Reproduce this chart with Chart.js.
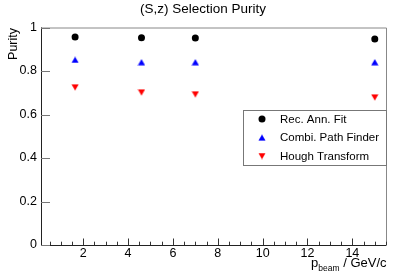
<!DOCTYPE html>
<html>
<head>
<meta charset="utf-8">
<script src="https://cdn.jsdelivr.net/npm/chart.js@4.4.1/dist/chart.umd.min.js"></script>
<style>
  html, body { margin: 0; padding: 0; background: #fff; }
  #c { display: block; }
</style>
</head>
<body>
<canvas id="c" width="407" height="276"></canvas>
<script>
// beam momenta (GeV/c) and purity per method
const momenta = [1.64, 4.6, 7.0, 15.0];
const recAnnFit = [0.956, 0.953, 0.952, 0.947];
const combiPathFinder = [0.851, 0.840, 0.840, 0.840];
const houghTransform = [0.725, 0.702, 0.693, 0.679];

const seriesNames = ['Rec. Ann. Fit', 'Combi. Path Finder', 'Hough Transform'];
const xTickValues = [2, 4, 6, 8, 10, 12, 14];
const xMinorStep = 0.5;
const yTickValues = [0, 0.2, 0.4, 0.6, 0.8, 1];

const FONT = "'Liberation Sans', Arial, Helvetica, sans-serif";

// ROOT-like triangle markers, centred on the point
function triMarker(color, down) {
  const c = document.createElement('canvas');
  c.width = 8; c.height = 7;
  const g = c.getContext('2d');
  g.fillStyle = color;
  g.beginPath();
  if (down) {
    g.moveTo(0.4, 0.4); g.lineTo(7.6, 0.4); g.lineTo(4, 6.7);
  } else {
    g.moveTo(4, 0.3); g.lineTo(7.6, 6.6); g.lineTo(0.4, 6.6);
  }
  g.closePath();
  g.fill();
  return c;
}
const blueUp = triMarker('#0000ff', false);
const redDown = triMarker('#ff0000', true);

function pts(ys) {
  return momenta.map((x, i) => ({ x: x, y: ys[i] }));
}

const rootStyle = {
  id: 'rootStyle',
  afterDraw(chart) {
    const ctx = chart.ctx;
    const a = chart.chartArea;
    const xs = chart.scales.x, ys = chart.scales.y;
    ctx.save();

    // frame
    ctx.lineWidth = 1;
    ctx.strokeStyle = '#888';
    ctx.beginPath();
    ctx.moveTo(a.left, a.top + 0.5); ctx.lineTo(a.right + 0.5, a.top + 0.5);
    ctx.lineTo(a.right + 0.5, a.bottom);
    ctx.stroke();
    ctx.strokeStyle = '#222';
    ctx.beginPath();
    ctx.moveTo(a.left + 0.5, a.top); ctx.lineTo(a.left + 0.5, a.bottom + 0.5);
    ctx.lineTo(a.right + 0.5, a.bottom + 0.5);
    ctx.stroke();

    // y ticks
    ctx.strokeStyle = '#777';
    ctx.beginPath();
    yTickValues.forEach(v => {
      const y = Math.round(ys.getPixelForValue(v)) + 0.5;
      ctx.moveTo(a.left, y); ctx.lineTo(a.left + 9, y);
    });
    ctx.stroke();

    // x ticks (major + minor)
    ctx.strokeStyle = '#333';
    ctx.beginPath();
    for (let v = xMinorStep; v <= xs.max; v += xMinorStep) {
      const major = xTickValues.includes(v);
      const x = Math.round(xs.getPixelForValue(v)) + 0.5;
      ctx.moveTo(x, a.bottom); ctx.lineTo(x, a.bottom - (major ? 6.5 : 3.3));
    }
    ctx.stroke();

    // title
    ctx.fillStyle = '#000';
    ctx.font = '13.5px ' + FONT;
    ctx.textAlign = 'center';
    ctx.textBaseline = 'middle';
    ctx.fillText('(S,z) Selection Purity', 203, 9.5);

    // y title
    ctx.save();
    ctx.translate(16.5, 28);
    ctx.rotate(-Math.PI / 2);
    ctx.font = '12.5px ' + FONT;
    ctx.textAlign = 'right';
    ctx.textBaseline = 'alphabetic';
    ctx.fillText('Purity', 0, 0);
    ctx.restore();

    // x title with subscript
    ctx.textAlign = 'left';
    ctx.textBaseline = 'alphabetic';
    const mainF = '13px ' + FONT, subF = '8.5px ' + FONT;
    ctx.font = mainF; const wP = ctx.measureText('p').width;
    const tail = ' / GeV/c'; const wT = ctx.measureText(tail).width;
    ctx.font = subF; const wS = ctx.measureText('beam').width;
    let x0 = 386.5 - (wP + wS + wT);
    ctx.font = mainF; ctx.fillText('p', x0, 267);
    ctx.font = subF; ctx.fillText('beam', x0 + wP, 271);
    ctx.font = mainF; ctx.fillText(tail, x0 + wP + wS, 267);

    // legend
    const lx = 243.5, ly = 110.5, lw = 143, lh = 55;
    ctx.fillStyle = '#fff';
    ctx.fillRect(lx, ly, lw, lh);
    ctx.strokeStyle = '#777';
    ctx.strokeRect(lx, ly, lw, lh);
    const rowY = [119, 137.7, 156];
    ctx.font = '11.5px ' + FONT;
    ctx.textBaseline = 'middle';
    seriesNames.forEach((name, i) => {
      const mx = 262, my = rowY[i];
      if (i === 0) {
        ctx.fillStyle = '#000';
        ctx.beginPath(); ctx.arc(mx, my, 3.5, 0, Math.PI * 2); ctx.fill();
      } else {
        const img = i === 1 ? blueUp : redDown;
        ctx.drawImage(img, mx - img.width / 2, my - img.height / 2);
      }
      ctx.fillStyle = '#000';
      ctx.fillText(name, 280, my + 0.5);
    });
    ctx.restore();
  }
};

new Chart(document.getElementById('c'), {
  type: 'scatter',
  data: {
    datasets: [
      { label: seriesNames[0], data: pts(recAnnFit), pointStyle: 'circle', pointRadius: 3.5,
        backgroundColor: '#000', borderWidth: 0 },
      { label: seriesNames[1], data: pts(combiPathFinder), pointStyle: blueUp, pointRadius: 4 },
      { label: seriesNames[2], data: pts(houghTransform), pointStyle: redDown, pointRadius: 4 }
    ]
  },
  options: {
    responsive: false,
    animation: false,
    layout: { padding: { left: 0, right: 21, top: 27.5, bottom: 0 } },
    plugins: { legend: { display: false }, tooltip: { enabled: false }, title: { display: false } },
    scales: {
      x: {
        type: 'linear', min: 0.12, max: 15.5,
        grid: { display: false, drawTicks: false }, border: { display: false },
        afterBuildTicks: s => { s.ticks = xTickValues.map(v => ({ value: v })); },
        afterFit: s => { s.height = 31; },
        ticks: { color: '#000', font: { family: FONT, size: 12.5 }, padding: 1, maxRotation: 0, autoSkip: false }
      },
      y: {
        type: 'linear', min: 0, max: 1,
        grid: { display: false, drawTicks: false }, border: { display: false },
        afterBuildTicks: s => { s.ticks = yTickValues.map(v => ({ value: v })); },
        afterFit: s => { s.width = 41; },
        ticks: { color: '#000', font: { family: FONT, size: 12.5 }, padding: 4,
          callback: v => String(+v.toFixed(1)) }
      }
    }
  },
  plugins: [rootStyle]
});
</script>
</body>
</html>
